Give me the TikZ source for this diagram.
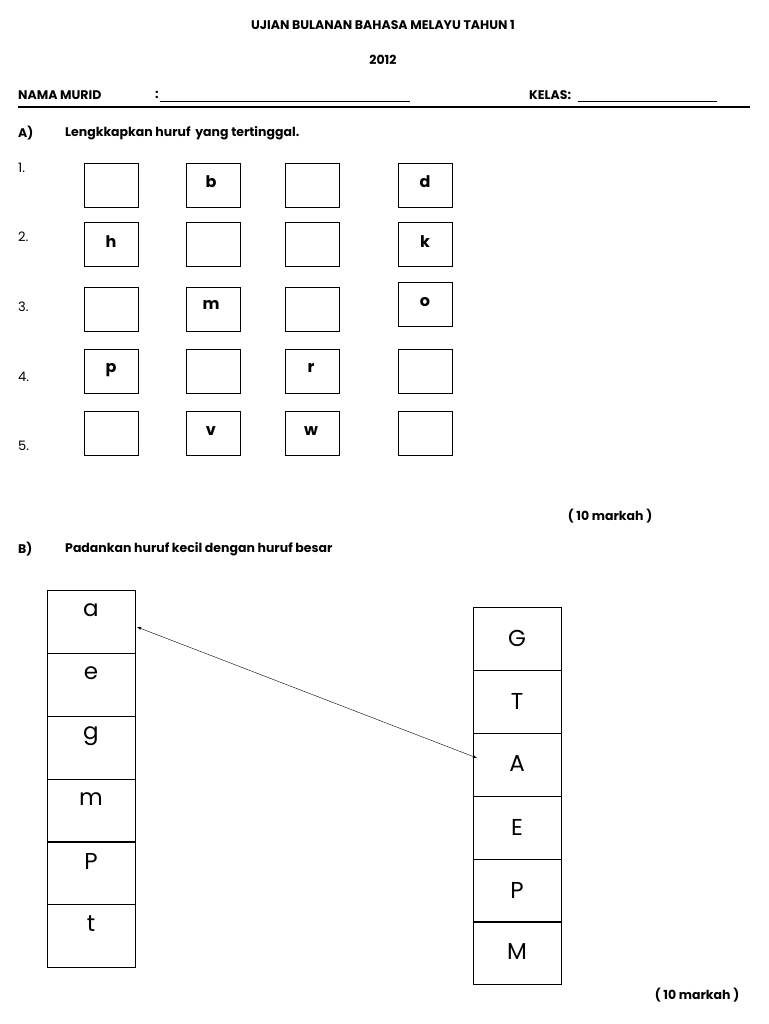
\documentclass[tikz,border=0pt]{standalone}
\usepackage{fontspec}
\setmainfont{Poppins}
\begin{document}
\begin{tikzpicture}[x=1pt,y=-1pt,
  hd/.style={font=\fontsize{12.5}{13}\selectfont\bfseries,inner sep=0},
  tx/.style={font=\fontsize{13}{14}\selectfont,inner sep=0},
  bx/.style={draw,thin,minimum width=54pt,minimum height=44pt,anchor=north west,inner sep=0},
  lt/.style={font=\fontsize{16}{16}\selectfont\bfseries,inner sep=0},
  cell/.style={draw,thin,minimum width=88pt,minimum height=63pt,anchor=north west,inner sep=0},
  big/.style={font=\fontsize{23}{23}\selectfont,inner sep=0}]
\useasboundingbox (0,0) rectangle (768,1024);
\node[hd] (t1) at (383,25) {UJIAN BULANAN BAHASA MELAYU TAHUN 1};
\node[hd] (t2) at (383,60) {2012};
\node[hd,anchor=west] (nm) at (18,95) {NAMA MURID};
\node[hd,anchor=west] (col) at (155,95) {:};
\draw (160,101) -- (410,101);
\node[hd,anchor=west] (kl) at (529,95) {KELAS:};
\draw (578,101) -- (717,101);
\draw[line width=1.2pt] (18,107) -- (750,107);
\node[hd,anchor=west] (qa) at (18,133) {A)};
\node[hd,anchor=west] (qat) at (65,133) {Lengkkapkan huruf\, yang tertinggal.};
\foreach \n/\y in {1/168,2/237,3/307,4/377,5/446}
  \node[tx,anchor=west] (r\n) at (18,\y) {\n.};
\foreach \r/\y in {1/163,2/222,3/287,4/349,5/411}{
  \node[bx] (b\r a) at (84,\y) {};
  \node[bx] (b\r b) at (186,\y) {};
  \node[bx] (b\r c) at (285,\y) {};
}
\node[bx] (b1d) at (398,163) {};
\node[bx] (b2d) at (398,222) {};
\node[bx] (b3d) at (398,282) {};
\node[bx] (b4d) at (398,349) {};
\node[bx] (b5d) at (398,411) {};
\node[lt] (lb) at (211,182) {b};
\node[lt] (ld) at (425,182) {d};
\node[lt] (lh) at (111,242) {h};
\node[lt] (lk) at (425,242) {k};
\node[lt] (lm) at (211,305) {m};
\node[lt] (lo) at (425,302) {o};
\node[lt] (lp) at (111,370) {p};
\node[lt] (lr) at (311,368) {r};
\node[lt] (lv) at (211,431) {v};
\node[lt] (lw) at (311,431) {w};
\node[hd] (m1) at (610,516) {( 10 markah )};
\node[hd,anchor=west] (qb) at (18,549) {B)};
\node[hd,anchor=west] (qbt) at (65,549) {Padankan huruf kecil dengan huruf besar};
\foreach \i/\y/\l in {1/590/a,2/653/e,3/716/g,4/779/m,5/841/P,6/904/t}{
  \node[cell] (L\i) at (47,\y) {};
  \node[big] (Lt\i) at (91,\y+20) {\l};
}
\foreach \i/\y/\l in {1/607/G,2/670/T,3/733/A,4/796/E,5/859/P,6/921/M}{
  \node[cell] (R\i) at (473,\y) {};
  \node[big] (Rt\i) at (517,\y+31) {\l};
}
\coordinate (ca) at (137,627);
\coordinate (cb) at (477,758);
\draw[<->,>=latex] (ca) -- (cb);
\node[hd] (m2) at (697,995) {( 10 markah )};
\end{tikzpicture}
\end{document}
